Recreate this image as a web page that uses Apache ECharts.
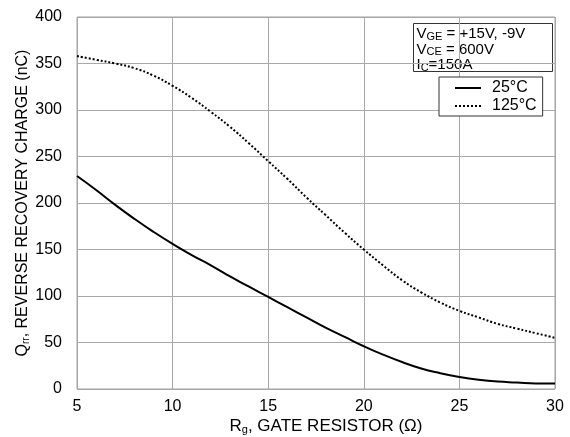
<!DOCTYPE html>
<html><head><meta charset="utf-8">
<script src="https://cdn.jsdelivr.net/npm/echarts@6/dist/echarts.min.js"></script>
<style>html,body{margin:0;padding:0;background:#fff}#c{width:570px;height:437px}</style>
</head><body><div id="c"></div>
<script>
const rg = [5,6,7,8,9,10,11,12,13,14,15,16,17,18,19,20,21,22,23,24,25,26,27,28,29,30];
const q25 = [229,214,198,183,169,156,144,133,121,110,99,88,77,66,56,46,37,29,22,17,13,10,8,7,6,6];
const q125 = [358,354,350,345,337,326,313,298,282,264,245,226,206,187,168,150,133,117,104,93,84,77,70,65,60,55];
const xTicks = [5,10,15,20,25,30];
const yTicks = [0,50,100,150,200,250,300,350,400];
const seriesNames = ['25°C','125°C'];

const FONT = '"Liberation Sans", Arial, sans-serif';
const chart = echarts.init(document.getElementById('c'));
chart.setOption({
  animation:false,
  backgroundColor:'#fff',
  grid:{left:77,right:15,top:17,bottom:48,show:true,borderColor:'#a0a0a0',borderWidth:1,outerBoundsMode:'none',containLabel:false},
  xAxis:{type:'value',min:xTicks[0],max:xTicks[xTicks.length-1],interval:5,
    axisLine:{show:false},axisTick:{show:false},
    splitLine:{show:true,lineStyle:{color:'#a8a8a8',width:1}},
    axisLabel:{fontFamily:FONT,fontSize:16,color:'#000',margin:10},
    name:'{m|R}{s|g}{m|, GATE RESISTOR (Ω)}',nameLocation:'middle',nameGap:28,nameMoveOverlap:false,
    nameTextStyle:{padding:[0,0,0,20],rich:{m:{fontFamily:FONT,fontSize:17,color:'#000'},s:{fontFamily:FONT,fontSize:11,color:'#000',verticalAlign:'bottom',padding:[7,0,0,0]}}}
  },
  yAxis:{type:'value',min:yTicks[0],max:yTicks[yTicks.length-1],interval:50,
    axisLine:{show:false},axisTick:{show:false},
    splitLine:{show:true,lineStyle:{color:'#a8a8a8',width:1}},
    axisLabel:{fontFamily:FONT,fontSize:16,color:'#000',margin:15},
    name:'{m|Q}{s|rr}{m|, REVERSE RECOVERY CHARGE (nC)}',nameLocation:'middle',nameGap:46,nameMoveOverlap:false,
    nameTextStyle:{rich:{m:{fontFamily:FONT,fontSize:16,color:'#000'},s:{fontFamily:FONT,fontSize:10,color:'#000',verticalAlign:'bottom',padding:[7,0,0,0]}}}
  },
  legend:{show:true,orient:'vertical',left:439,top:77,itemWidth:26,itemHeight:12,itemGap:2,
    borderColor:'#333',borderWidth:1,padding:[3,6,2,15],backgroundColor:'#fff',
    itemStyle:{opacity:0},
    textStyle:{fontFamily:FONT,fontSize:16,color:'#000',padding:[0,0,0,6]},
    data:seriesNames
  },
  graphic:[{type:'group',left:413,top:23,children:[
    {type:'rect',shape:{x:0,y:0,width:139,height:48},style:{fill:'#fff',stroke:'#333',lineWidth:1}},
    {type:'text',x:3,y:3,style:{text:'{m|V}{s|GE}{m| = +15V, -9V}\n{m|V}{s|CE}{m| = 600V}\n{m|I}{s|C}{m|=150A}',
      rich:{m:{fontFamily:FONT,fontSize:15,color:'#000',lineHeight:15.5},s:{fontFamily:FONT,fontSize:11,color:'#000',lineHeight:15.5,verticalAlign:'bottom'}}}}
  ]}],
  series:[
    {name:seriesNames[0],type:'line',smooth:true,symbol:'none',data:rg.map((x,i)=>[x,q25[i]]),
      lineStyle:{color:'#000',width:2},itemStyle:{color:'#000'}},
    {name:seriesNames[1],type:'line',smooth:true,symbol:'none',data:rg.map((x,i)=>[x,q125[i]]),
      lineStyle:{color:'#000',width:2,type:[2,2]},itemStyle:{color:'#000'}}
  ]
});
</script></body></html>
